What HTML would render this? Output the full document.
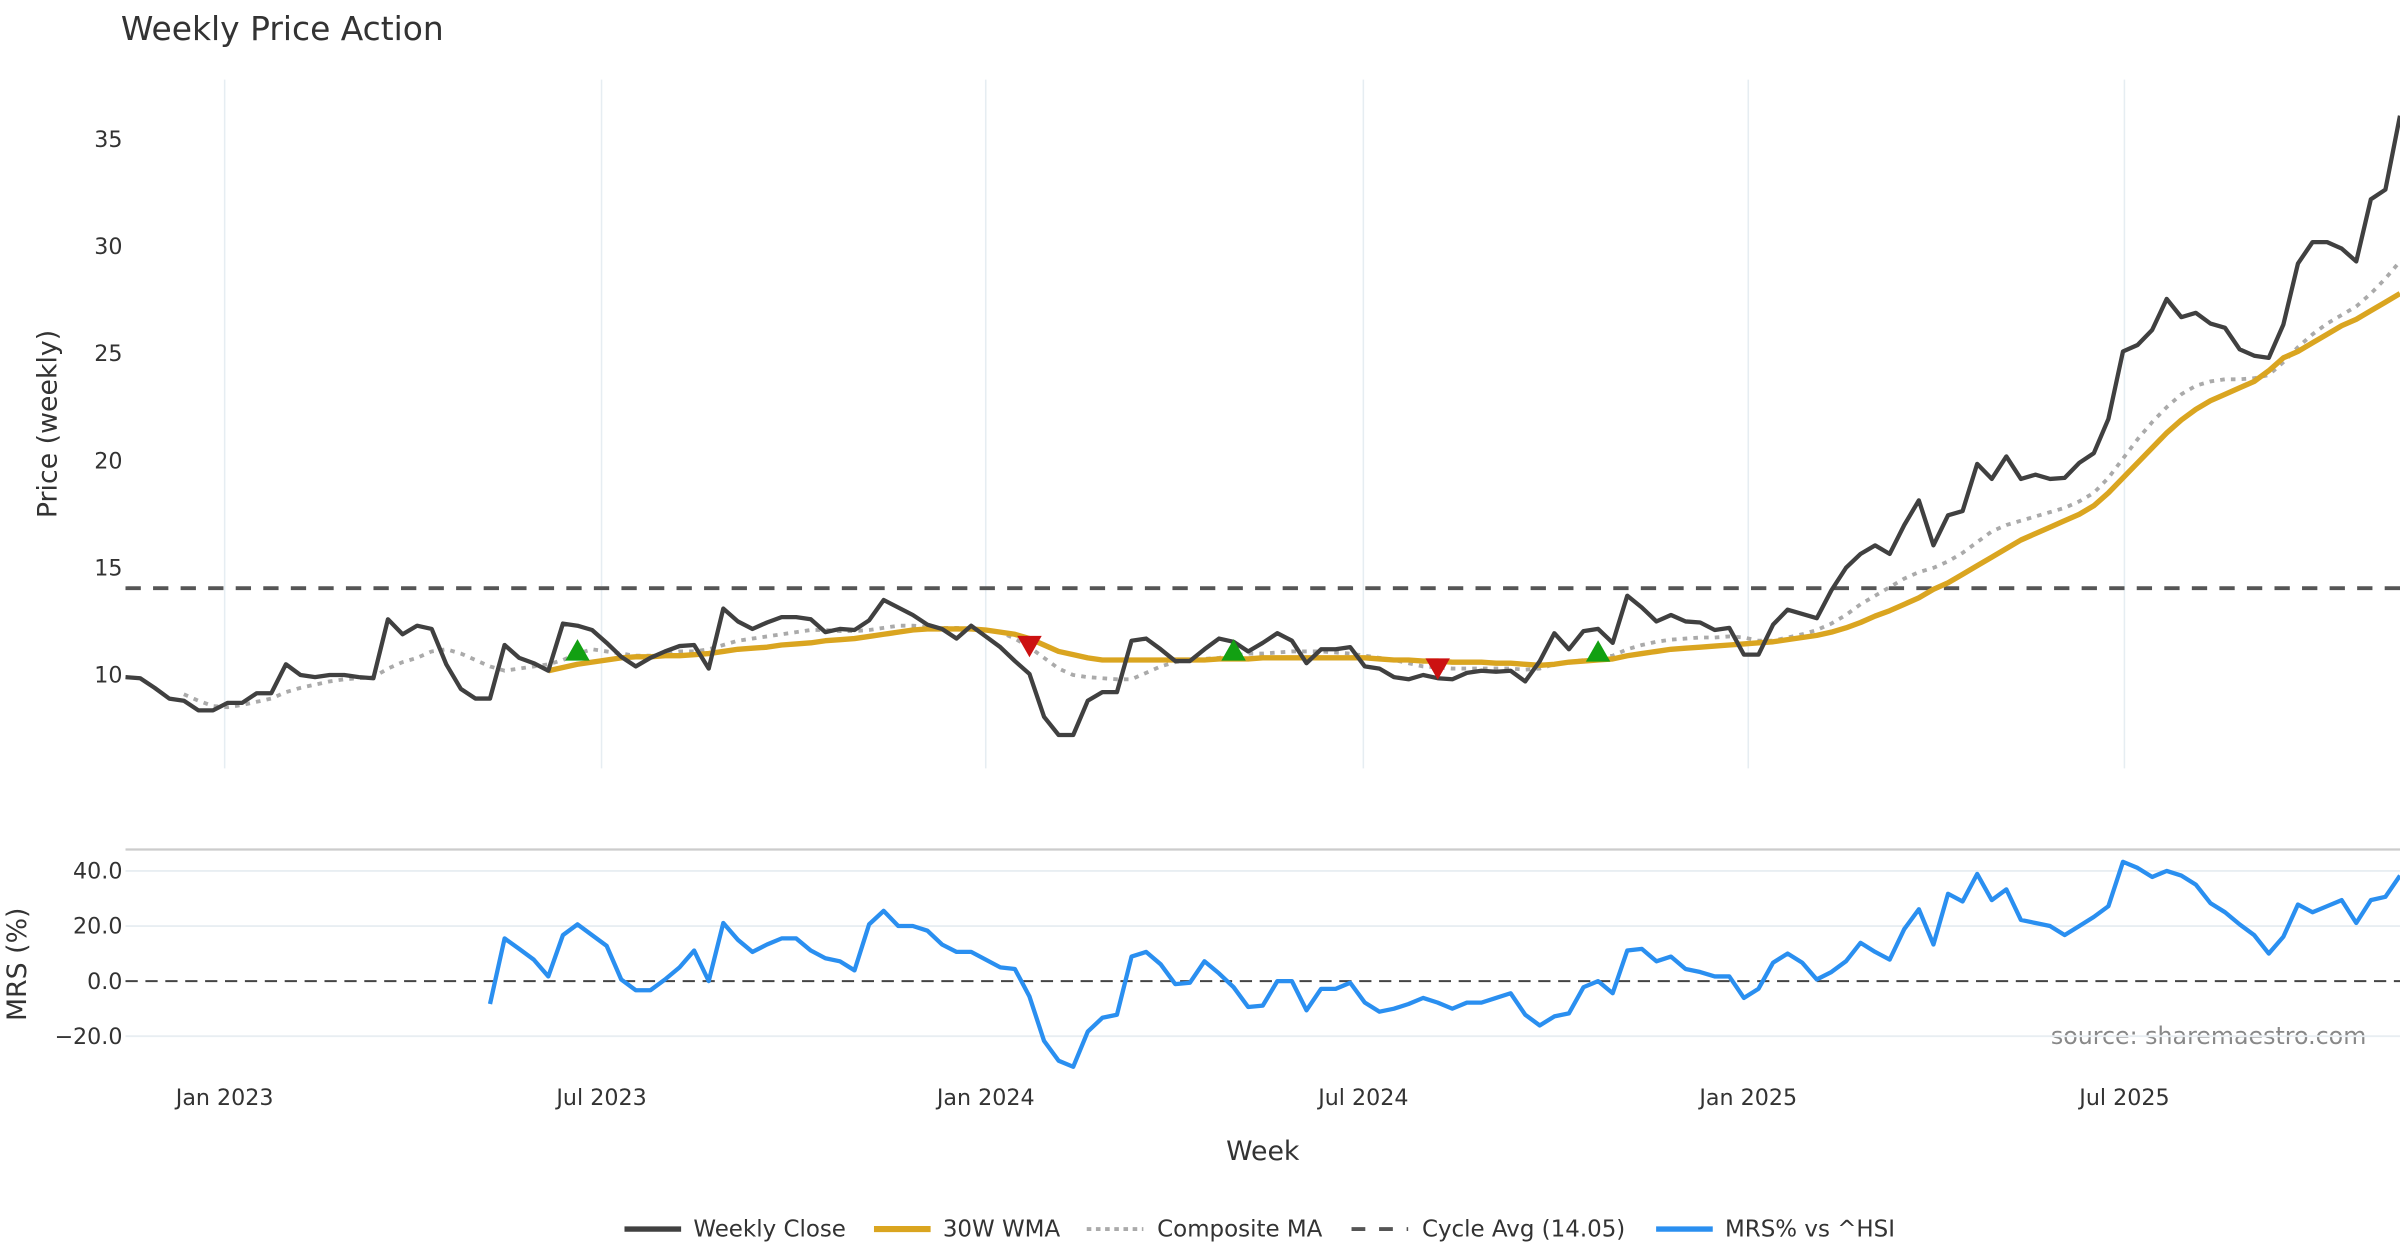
<!DOCTYPE html>
<html><head><meta charset="utf-8"><style>
html,body{margin:0;padding:0;background:#fff;}
svg{display:block;font-family:"DejaVu Sans","Liberation Sans",sans-serif;}
</style></head><body>
<svg id="chart" width="2400" height="1260" viewBox="0 0 1568 823.2" preserveAspectRatio="none" xmlns="http://www.w3.org/2000/svg">
<text x="79" y="26" font-size="21.5" fill="#333">Weekly Price Action</text>
<text transform="translate(37,277) rotate(-90)" text-anchor="middle" font-size="17.5" fill="#333">Price (weekly)</text>
<text transform="translate(17,630) rotate(-90)" text-anchor="middle" font-size="17.5" fill="#333">MRS (%)</text>
<text x="825" y="758" text-anchor="middle" font-size="17.5" fill="#333">Week</text>
<text x="1546" y="682" text-anchor="end" font-size="15.5" fill="#888">source: sharemaestro.com</text>
<line x1="82" y1="555" x2="1568" y2="555" stroke="#cccccc" stroke-width="1.5"/>
<g id="grid"></g><g id="series"></g><g id="axes"></g>
<g font-size="15" fill="#333">
 <g><line x1="408" y1="803" x2="445" y2="803" stroke="#404040" stroke-width="3.5"/><text x="453" y="808">Weekly Close</text></g>
 <g><line x1="571" y1="803" x2="608" y2="803" stroke="#DAA520" stroke-width="4"/><text x="616" y="808">30W WMA</text></g>
 <g><line x1="710" y1="803" x2="747" y2="803" stroke="#aaa" stroke-width="2.5" stroke-dasharray="3,3"/><text x="756" y="808">Composite MA</text></g>
 <g><line x1="883" y1="803" x2="920" y2="803" stroke="#555" stroke-width="2.5" stroke-dasharray="9,9"/><text x="929" y="808">Cycle Avg (14.05)</text></g>
 <g><line x1="1082" y1="803" x2="1119" y2="803" stroke="#2a8ff0" stroke-width="3.5"/><text x="1127" y="808">MRS% vs ^HSI</text></g>
</g>
</svg>
<script>
const closePrices=[9.9,9.85,9.4,8.9,8.8,8.35,8.35,8.7,8.7,9.15,9.15,10.5,10.0,9.9,10.0,10.0,9.9,9.85,12.6,11.9,12.3,12.15,10.5,9.35,8.9,8.9,11.4,10.8,10.55,10.2,12.4,12.3,12.1,11.5,10.85,10.4,10.8,11.1,11.35,11.4,10.3,13.1,12.5,12.15,12.45,12.7,12.7,12.6,12.0,12.15,12.1,12.55,13.5,13.15,12.8,12.35,12.15,11.7,12.3,11.8,11.3,10.65,10.05,8.05,7.2,7.2,8.8,9.2,9.2,11.6,11.7,11.2,10.65,10.65,11.2,11.7,11.55,11.1,11.5,11.95,11.6,10.55,11.2,11.2,11.3,10.4,10.3,9.9,9.8,10.0,9.85,9.8,10.1,10.2,10.15,10.2,9.7,10.65,11.95,11.2,12.05,12.15,11.5,13.7,13.15,12.5,12.8,12.5,12.45,12.1,12.2,10.95,10.95,12.35,13.05,12.85,12.65,13.95,15.0,15.65,16.05,15.65,17.0,18.15,16.05,17.45,17.65,19.85,19.15,20.2,19.15,19.35,19.15,19.2,19.9,20.35,21.95,25.1,25.4,26.1,27.55,26.7,26.9,26.4,26.2,25.2,24.9,24.8,26.35,29.2,30.2,30.2,29.9,29.3,32.2,32.65,36.1];
const wmaStart=29;
const wmaValues=[10.2,10.35,10.5,10.6,10.7,10.8,10.85,10.85,10.9,10.9,10.95,11.0,11.1,11.2,11.25,11.3,11.4,11.45,11.5,11.6,11.65,11.7,11.8,11.9,12.0,12.1,12.15,12.15,12.15,12.15,12.1,12.0,11.9,11.7,11.4,11.1,10.95,10.8,10.7,10.7,10.7,10.7,10.7,10.7,10.7,10.7,10.75,10.75,10.75,10.8,10.8,10.8,10.8,10.8,10.8,10.8,10.8,10.75,10.7,10.7,10.65,10.65,10.6,10.6,10.6,10.55,10.55,10.5,10.45,10.5,10.6,10.65,10.7,10.75,10.9,11.0,11.1,11.2,11.25,11.3,11.35,11.4,11.45,11.5,11.55,11.65,11.75,11.85,12.0,12.2,12.45,12.75,13.0,13.3,13.6,14.0,14.3,14.7,15.1,15.5,15.9,16.3,16.6,16.9,17.2,17.5,17.9,18.5,19.2,19.9,20.6,21.3,21.9,22.4,22.8,23.1,23.4,23.7,24.2,24.8,25.1,25.5,25.9,26.3,26.6,27.0,27.4,27.8];
const compStart=4;
const compValues=[9.1,8.8,8.55,8.5,8.6,8.75,8.9,9.2,9.4,9.55,9.7,9.8,9.85,9.9,10.3,10.6,10.8,11.1,11.2,11.0,10.7,10.4,10.2,10.3,10.4,10.5,10.7,11.0,11.2,11.1,11.0,10.9,10.9,11.0,11.1,11.1,11.2,11.4,11.6,11.7,11.8,11.9,12.0,12.1,12.1,12.05,12.05,12.1,12.2,12.3,12.3,12.25,12.2,12.2,12.15,12.1,12.0,11.7,11.3,10.8,10.3,10.0,9.9,9.85,9.8,9.8,10.1,10.4,10.6,10.7,10.75,10.8,10.9,11.0,11.0,11.05,11.1,11.1,11.1,11.05,11.0,10.9,10.8,10.7,10.55,10.4,10.35,10.3,10.3,10.3,10.3,10.3,10.25,10.3,10.5,10.6,10.7,10.8,10.9,11.2,11.4,11.55,11.65,11.7,11.75,11.75,11.8,11.75,11.6,11.6,11.75,11.9,12.1,12.4,12.8,13.3,13.7,14.1,14.5,14.8,15.0,15.3,15.7,16.2,16.7,17.0,17.2,17.4,17.6,17.8,18.1,18.5,19.2,20.1,21.0,21.8,22.5,23.1,23.5,23.7,23.8,23.8,23.85,24.0,24.6,25.3,25.9,26.4,26.8,27.2,27.8,28.5,29.3];
const mrsStart=25;
const mrsValues=[-8.3,15.5,11.7,7.8,1.7,16.7,20.6,16.7,12.8,0.6,-3.3,-3.3,0.6,5,11.1,0,21.1,15,10.6,13.3,15.5,15.5,11.1,8.3,7.2,3.9,20.6,25.5,20,20,18.3,13.3,10.6,10.6,7.8,5,4.4,-5.6,-21.7,-28.9,-31.1,-18.3,-13.3,-12.2,8.9,10.6,6.1,-1.1,-0.6,7.2,2.8,-2.2,-9.4,-8.9,0,0,-10.6,-2.8,-2.8,-0.6,-7.8,-11.1,-10,-8.3,-6.1,-7.8,-10,-7.8,-7.8,-6.1,-4.4,-12.2,-16.1,-12.8,-11.7,-2.2,0,-4.4,11.1,11.7,7.2,8.9,4.4,3.3,1.7,1.7,-6.1,-2.8,6.7,10,6.7,0.6,3.3,7.2,13.9,10.6,7.8,18.9,26.1,13.3,31.7,28.9,38.9,29.4,33.3,22.2,21.1,20,16.7,20,23.3,27.2,43.3,41.1,37.8,40,38.3,35,28.3,25,20.6,16.7,10,16.1,27.8,25,27.2,29.4,21.1,29.4,30.6,38.3];
const cycleAvg=14.05;
const buyIdx=[31,76,101];
const buyPrice=[11.1,11.1,11.05];
const sellIdx=[62,90];
const sellPrice=[11.4,10.35];
const priceTicks=[10,15,20,25,30,35];
const mrsTicks=[-20,0,20,40];
const dateTickLabels=["Jan 2023","Jul 2023","Jan 2024","Jul 2024","Jan 2025","Jul 2025"];
const dateTickWeeks=[6.8,32.65,59.0,84.9,111.3,137.1];

const NS="http://www.w3.org/2000/svg";
const N=closePrices.length;
const X0=82,X1=1568;
function xS(i){return X0+i*(X1-X0)/(N-1);}
function yP(p){return 441-(p-10)*14;}
function yM(m){return 641-m*1.8;}
function mk(tag,attrs,parent){const e=document.createElementNS(NS,tag);for(const k in attrs)e.setAttribute(k,attrs[k]);parent.appendChild(e);return e;}
const grid=document.getElementById('grid'),ser=document.getElementById('series'),axes=document.getElementById('axes');

dateTickWeeks.forEach((w,k)=>{
  const gl=mk('line',{x1:xS(w),x2:xS(w),y1:52,y2:502,stroke:'#e6edf2','stroke-width':1},grid);
  
  
  const t=mk('text',{x:xS(w),y:722,'text-anchor':'middle','font-size':14.5,fill:'#333'},axes);
  t.textContent=dateTickLabels[k];
  
  
});
priceTicks.forEach(p=>{
  const t=mk('text',{x:80,y:yP(p)+5,'text-anchor':'end','font-size':14.5,fill:'#333'},axes);
  t.textContent=p;
  
  
});
mrsTicks.forEach(m=>{
  if(m!==0){const gl=mk('line',{x1:X0,x2:X1,y1:yM(m),y2:yM(m),stroke:'#e8eef2','stroke-width':1.2},grid);
  
  }
  const t=mk('text',{x:80,y:yM(m)+5,'text-anchor':'end','font-size':14.5,fill:'#333'},axes);
  t.textContent=m.toFixed(1).replace('-','\u2212');
  
  
});
const zl=mk('line',{x1:X0,x2:X1,y1:yM(0),y2:yM(0),stroke:'#444','stroke-width':1.3,'stroke-dasharray':'8,5'},grid);



function pathFrom(vals,start,yf){return vals.map((v,j)=>(j?'L':'M')+xS(start+j).toFixed(2)+','+yf(v).toFixed(2)).join(' ');}
const cyc=mk('line',{x1:X0,x2:X1,y1:yP(cycleAvg),y2:yP(cycleAvg),stroke:'#555','stroke-width':2.5,'stroke-dasharray':'10,8'},ser);


const comp=mk('path',{d:pathFrom(compValues,compStart,yP),fill:'none',stroke:'#aaa','stroke-width':2.5,'stroke-dasharray':'3,4'},ser);


const wma=mk('path',{d:pathFrom(wmaValues,wmaStart,yP),fill:'none',stroke:'#DAA520','stroke-width':3.5,'stroke-linejoin':'round'},ser);


const cl=mk('path',{d:pathFrom(closePrices,0,yP),fill:'none',stroke:'#404040','stroke-width':2.8,'stroke-linejoin':'round'},ser);


const mrs=mk('path',{d:pathFrom(mrsValues,mrsStart,yM),fill:'none',stroke:'#2a8ff0','stroke-width':2.8,'stroke-linejoin':'round'},ser);


buyIdx.forEach((i,k)=>{const x=xS(i),y=yP(buyPrice[k]);
  const t=mk('polygon',{points:`${x-8},${y+6} ${x+8},${y+6} ${x},${y-8}`,fill:'#12a012'},ser);
  
  
});
sellIdx.forEach((i,k)=>{const x=xS(i),y=yP(sellPrice[k]);
  const t=mk('polygon',{points:`${x-8},${y-6} ${x+8},${y-6} ${x},${y+8}`,fill:'#cc1111'},ser);
  
  
});
</script>
</body></html>
